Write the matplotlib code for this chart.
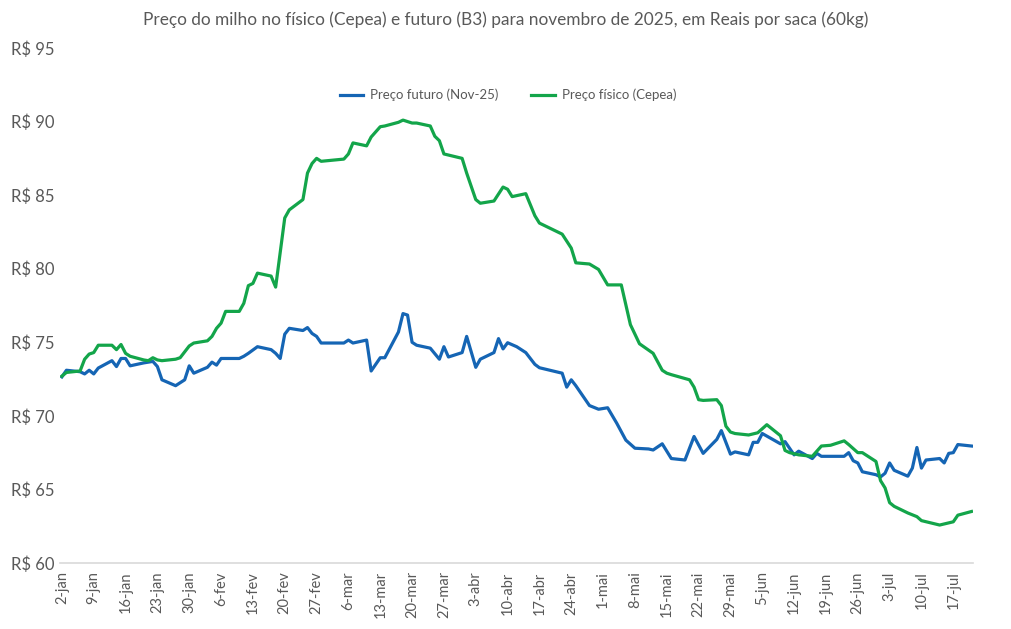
import pandas as pd
import matplotlib.pyplot as plt

plt.rcParams['font.family'] = ['Lato', 'DejaVu Sans']

# Preço futuro B3 (Nov-25), R$/saca
futuro_datas = [
    "2025-01-02", "2025-01-03", "2025-01-06", "2025-01-07", "2025-01-08", "2025-01-09",
    "2025-01-10", "2025-01-13", "2025-01-14", "2025-01-15", "2025-01-16", "2025-01-17",
    "2025-01-20", "2025-01-22", "2025-01-23", "2025-01-24", "2025-01-27", "2025-01-29",
    "2025-01-30", "2025-01-31", "2025-02-03", "2025-02-04", "2025-02-05", "2025-02-06",
    "2025-02-10", "2025-02-11", "2025-02-12", "2025-02-14", "2025-02-17", "2025-02-18",
    "2025-02-19", "2025-02-20", "2025-02-21", "2025-02-24", "2025-02-25", "2025-02-26",
    "2025-02-27", "2025-02-28", "2025-03-05", "2025-03-06", "2025-03-07", "2025-03-10",
    "2025-03-11", "2025-03-13", "2025-03-14", "2025-03-17", "2025-03-18", "2025-03-19",
    "2025-03-20", "2025-03-21", "2025-03-24", "2025-03-26", "2025-03-27", "2025-03-28",
    "2025-03-31", "2025-04-01", "2025-04-03", "2025-04-04", "2025-04-07", "2025-04-08",
    "2025-04-09", "2025-04-10", "2025-04-12", "2025-04-14", "2025-04-16", "2025-04-17",
    "2025-04-22", "2025-04-23", "2025-04-24", "2025-04-25", "2025-04-28", "2025-04-30",
    "2025-05-02", "2025-05-04", "2025-05-06", "2025-05-08", "2025-05-11", "2025-05-12",
    "2025-05-14", "2025-05-16", "2025-05-19", "2025-05-21", "2025-05-23", "2025-05-26",
    "2025-05-27", "2025-05-29", "2025-05-30", "2025-06-02", "2025-06-03", "2025-06-04",
    "2025-06-05", "2025-06-09", "2025-06-10", "2025-06-12", "2025-06-13", "2025-06-16",
    "2025-06-17", "2025-06-18", "2025-06-23", "2025-06-24", "2025-06-25", "2025-06-26",
    "2025-06-27", "2025-06-30", "2025-07-01", "2025-07-02", "2025-07-03", "2025-07-04",
    "2025-07-07", "2025-07-08", "2025-07-09", "2025-07-10", "2025-07-11", "2025-07-14",
    "2025-07-15", "2025-07-16", "2025-07-17", "2025-07-18", "2025-07-21",
]
futuro_valores = [
    72.65, 73.1, 73.0, 72.85, 73.1, 72.85,
    73.25, 73.75, 73.35, 73.9, 73.9, 73.4,
    73.6, 73.7, 73.35, 72.45, 72.05, 72.45,
    73.4, 72.9, 73.3, 73.65, 73.45, 73.9,
    73.9, 74.05, 74.25, 74.7, 74.5, 74.25,
    73.9, 75.55, 75.95, 75.8, 76.0, 75.6,
    75.4, 74.95, 74.95, 75.15, 74.95, 75.15,
    73.05, 73.95, 73.95, 75.7, 76.95, 76.85,
    75.0, 74.8, 74.6, 73.85, 74.7, 74.0,
    74.3, 75.4, 73.3, 73.85, 74.3, 75.25,
    74.55, 74.97, 74.7, 74.3, 73.5, 73.27,
    72.9, 71.95, 72.45, 72.05, 70.7, 70.45,
    70.55, 69.5, 68.35, 67.8, 67.75, 67.68,
    68.1, 67.1, 67.0, 68.6, 67.45, 68.4,
    69.0, 67.4, 67.55, 67.35, 68.2, 68.2,
    68.8, 68.1, 68.25, 67.35, 67.6, 67.1,
    67.45, 67.25, 67.25, 67.5, 66.95, 66.8,
    66.2, 66.0, 65.85, 66.1, 66.8, 66.3,
    65.9, 66.45, 67.85, 66.45, 67.0, 67.1,
    66.8, 67.45, 67.5, 68.05, 67.95,
]

# Preço físico Cepea, R$/saca
fisico_datas = [
    "2025-01-02", "2025-01-03", "2025-01-06", "2025-01-07", "2025-01-08", "2025-01-09",
    "2025-01-10", "2025-01-13", "2025-01-14", "2025-01-15", "2025-01-16", "2025-01-17",
    "2025-01-20", "2025-01-21", "2025-01-22", "2025-01-23", "2025-01-24", "2025-01-27",
    "2025-01-28", "2025-01-29", "2025-01-30", "2025-01-31", "2025-02-03", "2025-02-04",
    "2025-02-05", "2025-02-06", "2025-02-07", "2025-02-10", "2025-02-11", "2025-02-12",
    "2025-02-13", "2025-02-14", "2025-02-17", "2025-02-18", "2025-02-20", "2025-02-21",
    "2025-02-24", "2025-02-25", "2025-02-26", "2025-02-27", "2025-02-28", "2025-03-05",
    "2025-03-06", "2025-03-07", "2025-03-10", "2025-03-11", "2025-03-13", "2025-03-14",
    "2025-03-17", "2025-03-18", "2025-03-19", "2025-03-20", "2025-03-21", "2025-03-24",
    "2025-03-25", "2025-03-26", "2025-03-27", "2025-03-31", "2025-04-01", "2025-04-02",
    "2025-04-03", "2025-04-04", "2025-04-07", "2025-04-09", "2025-04-10", "2025-04-11",
    "2025-04-14", "2025-04-16", "2025-04-17", "2025-04-22", "2025-04-24", "2025-04-25",
    "2025-04-28", "2025-04-30", "2025-05-02", "2025-05-05", "2025-05-07", "2025-05-09",
    "2025-05-12", "2025-05-14", "2025-05-15", "2025-05-16", "2025-05-20", "2025-05-21",
    "2025-05-22", "2025-05-23", "2025-05-26", "2025-05-27", "2025-05-28", "2025-05-29",
    "2025-05-30", "2025-06-02", "2025-06-04", "2025-06-06", "2025-06-09", "2025-06-10",
    "2025-06-11", "2025-06-13", "2025-06-16", "2025-06-18", "2025-06-20", "2025-06-23",
    "2025-06-24", "2025-06-26", "2025-06-27", "2025-06-30", "2025-07-01", "2025-07-02",
    "2025-07-03", "2025-07-04", "2025-07-07", "2025-07-09", "2025-07-10", "2025-07-14",
    "2025-07-17", "2025-07-18", "2025-07-21",
]
fisico_valores = [
    72.7, 72.95, 73.05, 73.85, 74.2, 74.3,
    74.8, 74.8, 74.5, 74.85, 74.25, 74.05,
    73.8, 73.75, 73.95, 73.8, 73.75, 73.85,
    73.95, 74.35, 74.75, 74.95, 75.1, 75.4,
    75.95, 76.3, 77.1, 77.1, 77.65, 78.85,
    79.0, 79.7, 79.5, 78.75, 83.45, 84.0,
    84.7, 86.5, 87.15, 87.5, 87.3, 87.45,
    87.8, 88.55, 88.35, 88.95, 89.65, 89.7,
    89.95, 90.1, 90.0, 89.9, 89.9, 89.7,
    89.0, 88.7, 87.8, 87.5, 86.5, 85.6,
    84.7, 84.45, 84.6, 85.55, 85.4, 84.9,
    85.1, 83.6, 83.1, 82.35, 81.4, 80.4,
    80.32, 79.95, 78.9, 78.9, 76.2, 74.9,
    74.25, 73.1, 72.9, 72.8, 72.45, 71.95,
    71.1, 71.05, 71.1, 70.7, 69.3, 68.9,
    68.8, 68.7, 68.85, 69.4, 68.65, 67.65,
    67.5, 67.35, 67.25, 67.95, 68.0, 68.3,
    68.05, 67.5, 67.5, 66.9, 65.6, 65.1,
    64.1, 63.85, 63.4, 63.15, 62.88, 62.58,
    62.8, 63.25, 63.5,
]

meses = ["jan", "fev", "mar", "abr", "mai", "jun", "jul"]
y_ticks = [60, 65, 70, 75, 80, 85, 90, 95]

titulo = "Preço do milho no físico (Cepea) e futuro (B3) para novembro de 2025, em Reais por saca (60kg)"
cinza = "#595959"

fig = plt.figure(figsize=(10.12, 6.29), dpi=100)
ax = fig.add_axes([60 / 1012, 1 - 563 / 629, 913 / 1012, 515 / 629])

ax.plot(pd.to_datetime(futuro_datas), futuro_valores, color="#1565B4", lw=2.3,
        label="Preço futuro (Nov-25)", solid_joinstyle="round")
ax.plot(pd.to_datetime(fisico_datas), fisico_valores, color="#13A54A", lw=2.3,
        label="Preço físico (Cepea)", solid_joinstyle="round")

inicio = pd.Timestamp("2025-01-02")
fim = pd.Timestamp("2025-07-21")
ax.set_xlim(inicio - pd.Timedelta(hours=10), fim + pd.Timedelta(hours=8))
ax.set_ylim(60, 95)

semanas = pd.date_range("2025-01-02", "2025-07-17", freq="7D")
ax.set_xticks(semanas)
ax.set_xticklabels([f"{d.day}-{meses[d.month - 1]}" for d in semanas],
                   rotation=90, fontsize=10.5, color=cinza)
ax.set_yticks(y_ticks)
ax.set_yticklabels([f"R$ {v}" for v in y_ticks], fontsize=12, color=cinza)
ax.tick_params(axis="both", length=0)
ax.tick_params(axis="x", pad=6)
ax.tick_params(axis="y", pad=4)

for s in ["top", "right", "left"]:
    ax.spines[s].set_visible(False)
ax.spines["bottom"].set_color("#D9D9D9")
ax.spines["bottom"].set_linewidth(1.2)

fig.text(0.5, 1 - 20 / 629, titulo, ha="center", va="center", fontsize=12.4, color=cinza)

leg = ax.legend(loc="center", bbox_to_anchor=(508 / 1012, 1 - 95 / 629),
                bbox_transform=fig.transFigure, ncol=2, frameon=False,
                fontsize=9.5, handlelength=1.8, columnspacing=2.5, handletextpad=0.5)
for t in leg.get_texts():
    t.set_color(cinza)

fig.savefig("out.png", dpi=100)
